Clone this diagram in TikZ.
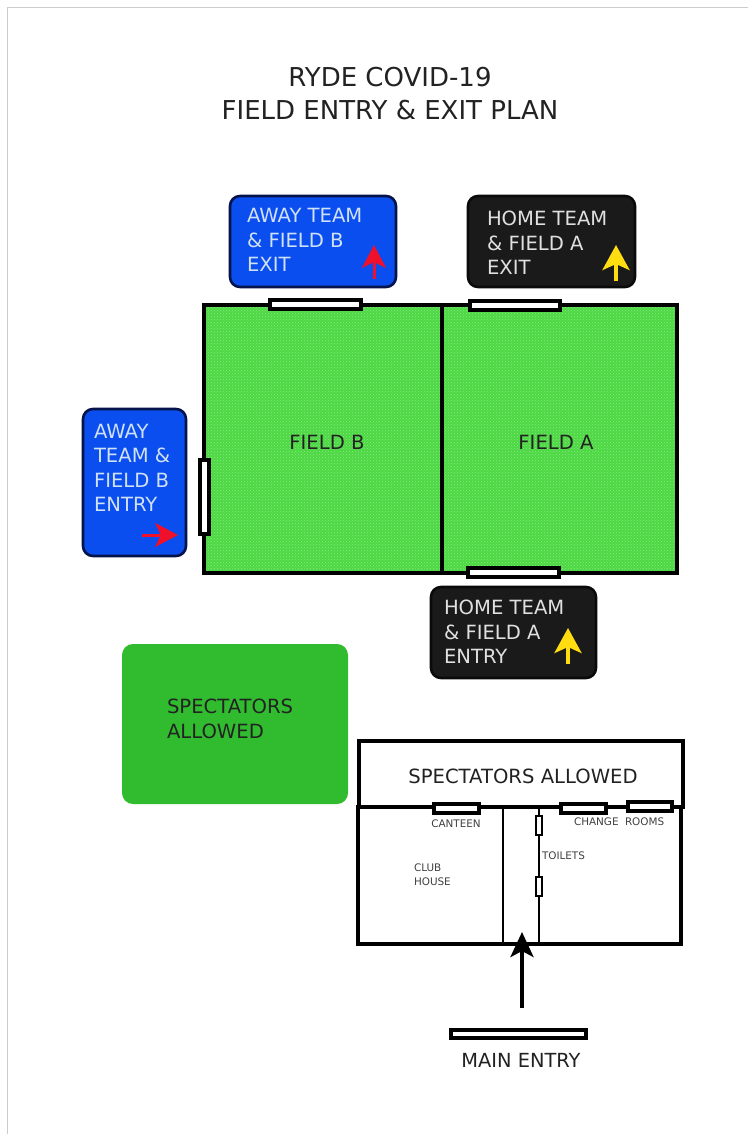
\documentclass[tikz,border=0pt]{standalone}
\usepackage{fontspec}
\setmainfont{DejaVu Sans}
\usetikzlibrary{arrows.meta,patterns}
\definecolor{awayblue}{HTML}{0A4EF0}
\definecolor{awayedge}{HTML}{04134A}
\definecolor{homeblack}{HTML}{1A1A1A}
\definecolor{homeedge}{HTML}{0A0A0A}
\definecolor{fieldgreen}{HTML}{4CD842}
\definecolor{fielddot}{HTML}{8CE884}
\definecolor{specgreen}{HTML}{31BC30}
\definecolor{arrowyellow}{HTML}{FFDD10}
\definecolor{arrowred}{HTML}{F0102A}
\definecolor{inktext}{HTML}{222222}
\definecolor{lightblue}{HTML}{D0E0F5}
\definecolor{lightgrey}{HTML}{E0E0E0}
\tikzset{
  x=1pt,y=-1pt,
  every node/.style={inner sep=0pt,outer sep=0pt,text=inktext},
  fieldtex/.style={pattern=crosshatch dots,pattern color=fielddot},
  awaysign/.style={draw=awayedge,line width=2.6pt,rounded corners=10pt,fill=awayblue},
  homesign/.style={draw=homeedge,line width=2.6pt,rounded corners=10pt,fill=homeblack},
  signtext/.style={anchor=west,align=left,font=\fontsize{19.6}{24.5}\selectfont},
  gate/.style={draw=black,line width=3.1pt,fill=white},
  wall/.style={draw=black,line width=3.1pt},
  thinwall/.style={draw=black,line width=1.8pt},
  tiny/.style={font=\fontsize{10.4}{13.5}\selectfont,align=left,text=black!75},
  big/.style={font=\fontsize{19.6}{24.5}\selectfont,align=left},
  redarrow/.style={draw=arrowred,line width=3pt,-{Stealth[length=23pt,width=24pt,inset=6pt]}},
  yellowarrow/.style={draw=arrowyellow,line width=4pt,-{Stealth[length=25pt,width=27pt,inset=6pt]}},
}
\begin{document}
\begin{tikzpicture}
\useasboundingbox (0,0) rectangle (748,1134);
\fill[white] (0,0) rectangle (748,1134);
\draw[black!20,line width=1pt] (7,1134) -- (7,8) -- (748,8);
\node[font=\fontsize{26}{32.5}\selectfont,align=center] (title) at (390,93.5) {RYDE COVID-19\\FIELD ENTRY \& EXIT PLAN};
% fields
\fill[fieldgreen] (204,305) rectangle (677,573);
\fill[fieldtex] (204,305) rectangle (677,573);
\draw[wall] (204,305) rectangle (442,573);
\draw[wall] (442,305) rectangle (677,573);
\node[big] (fb) at (327,442) {FIELD B};
\node[big] (fa) at (556,442) {FIELD A};
% gates
\draw[gate] (270,300) rectangle (361,309);
\draw[gate] (470,301) rectangle (560,310);
\draw[gate] (200,460) rectangle (209,534);
\draw[gate] (468,568) rectangle (559,577);
% signs
\draw[awaysign] (230,196) rectangle (396,287);
\node[signtext,text=lightblue] (s1) at (247,240) {AWAY TEAM\\\& FIELD B\\EXIT};
\coordinate (a1s) at (374,279); \coordinate (a1e) at (374,245);
\draw[redarrow] (a1s) -- (a1e);
\draw[homesign] (468,196) rectangle (635,287);
\node[signtext,text=lightgrey] (s2) at (487,243) {HOME TEAM\\\& FIELD A\\EXIT};
\coordinate (a2s) at (616,281); \coordinate (a2e) at (616,245);
\draw[yellowarrow] (a2s) -- (a2e);
\draw[awaysign] (83,409) rectangle (186,556);
\node[signtext,text=lightblue] (s3) at (94,468) {AWAY\\TEAM \&\\FIELD B\\ENTRY};
\coordinate (a3s) at (142,535); \coordinate (a3e) at (178,535);
\draw[redarrow] (a3s) -- (a3e);
\draw[homesign] (431,587) rectangle (596,678);
\node[signtext,text=lightgrey] (s4) at (444,632) {HOME TEAM\\\& FIELD A\\ENTRY};
\coordinate (a4s) at (568,664); \coordinate (a4e) at (568,628);
\draw[yellowarrow] (a4s) -- (a4e);
% spectators
\fill[specgreen,rounded corners=11pt] (122,644) rectangle (348,804);
\node[big,anchor=west] (sp1) at (167,719) {SPECTATORS\\ALLOWED};
% building
\draw[wall] (359,741) rectangle (683,807);
\node[big] (sp2) at (523,776) {SPECTATORS ALLOWED};
\draw[wall] (358,807) rectangle (681,944);
\draw[thinwall] (503,807) -- (503,944);
\draw[thinwall] (539,807) -- (539,944);
\draw[gate] (434,804) rectangle (479,813);
\draw[gate] (561,804) rectangle (606,813);
\draw[gate] (628,802) rectangle (672,811);
\draw[gate,line width=2.4pt] (536,816) rectangle (542,835);
\draw[gate,line width=2.4pt] (536,877) rectangle (542,896);
\node[tiny] (canteen) at (456,824) {CANTEEN};
\node[tiny,anchor=west] (change) at (574,822) {CHANGE};
\node[tiny,anchor=west] (rooms) at (625,822) {ROOMS};
\node[tiny,anchor=west] (toilets) at (542,856) {TOILETS};
\node[tiny,anchor=west] (club) at (414,874.5) {CLUB\\HOUSE};
% main entry
\draw[gate] (451,1030) rectangle (586,1038);
\coordinate (m1) at (522,1008); \coordinate (m2) at (522,932);
\draw[draw=black,line width=4pt,-{Stealth[length=25pt,width=23pt,inset=6pt]}] (m1) -- (m2);
\node[font=\fontsize{19.4}{24}\selectfont] (main) at (521,1060) {MAIN ENTRY};
\end{tikzpicture}
\end{document}
